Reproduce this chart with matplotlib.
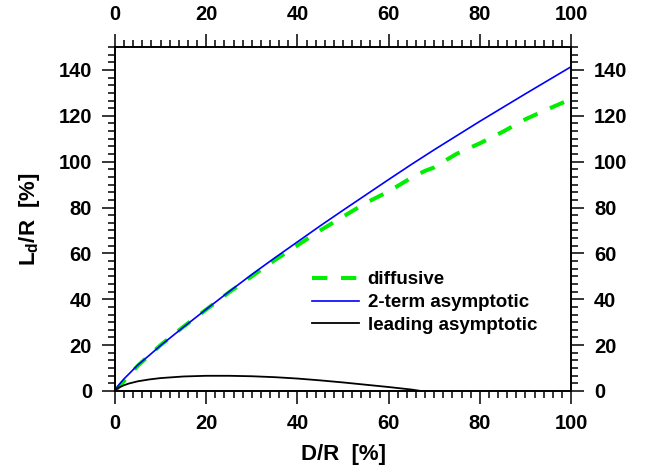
import numpy as np
import matplotlib
matplotlib.use('Agg')
import matplotlib.pyplot as plt
from matplotlib.ticker import MultipleLocator, AutoMinorLocator

plt.rcParams['font.family'] = ['Liberation Sans', 'DejaVu Sans']
plt.rcParams['font.weight'] = 'bold'
plt.rcParams['mathtext.default'] = 'regular'

# diffusive
d_diff = [0, 5, 10, 15, 20, 25, 30, 35, 40, 45, 50, 55, 60, 65, 68, 70, 72, 75, 80, 85, 90, 95, 100]
l_diff = [0, 11, 20, 28, 35.5, 43, 50, 57, 63.5, 70, 76, 82, 87, 93, 96, 97.5, 100, 103.5, 108, 113, 118.5, 123, 127.3]

# 2-term asymptotic
d_two = [0, 0.5, 1, 2, 3, 5, 7.5, 10, 12.5, 15, 17.5, 20, 25, 30, 35, 40, 45, 50,
         55, 60, 65, 70, 75, 80, 85, 90, 95, 100]
l_two = [0, 1.8, 3, 5.3, 7.3, 11.3, 15.5, 19.8, 23.8, 27.8, 31.7, 35.6, 43.3, 50.8, 58, 65, 72, 78.8,
         85.5, 92.2, 98.8, 105.2, 111.4, 117.6, 123.6, 129.6, 135.5, 141.4]

# leading asymptotic
d_lead = [0, 0.5, 1, 2, 3, 5, 7.5, 10, 15, 20, 25, 30, 35, 40, 45, 50, 55, 60, 65, 67]
l_lead = [0, 1.0, 1.6, 2.5, 3.2, 4.2, 5.0, 5.6, 6.3, 6.6, 6.6, 6.4, 6.0, 5.4, 4.6, 3.7, 2.7, 1.7, 0.6, 0]

fig = plt.figure(figsize=(6.46, 4.75), dpi=100)
ax = fig.add_axes([0.178, 0.177, 0.706, 0.724])

ax.plot(d_diff, l_diff, color='#00ee00', lw=2.9, dashes=(3.8, 3.4), label='diffusive')
ax.plot(d_two, l_two, color='#0000ff', lw=1.2, label='2-term asymptotic')
ax.plot(d_lead, l_lead, color='black', lw=1.3, label='leading asymptotic')

ax.set_xlim(0, 100)
ax.set_ylim(0, 150)
ax.xaxis.set_major_locator(MultipleLocator(20))
ax.xaxis.set_minor_locator(AutoMinorLocator(10))
ax.yaxis.set_major_locator(MultipleLocator(20))
ax.yaxis.set_minor_locator(AutoMinorLocator(6))
ax.set_yticks([0, 20, 40, 60, 80, 100, 120, 140])

ax.tick_params(which='both', direction='out', top=True, right=True,
               labeltop=True, labelright=True, labelsize=14.5, pad=7)
ax.tick_params(which='major', length=9.5, width=1.1)
ax.tick_params(which='minor', length=5, width=1.1)
for s in ax.spines.values():
    s.set_linewidth(1.4)

ax.set_xlabel('D/R  [%]', fontsize=16, fontweight='bold', labelpad=8)
ax.set_ylabel(r'L$_d$/R  [%]', fontsize=16, fontweight='bold', labelpad=12)

ax.legend(loc='upper left', bbox_to_anchor=(0.412, 0.375), frameon=False, borderpad=0,
          fontsize=13.5, handlelength=2.5, labelspacing=0.3, handletextpad=0.45)

fig.savefig('out.png', dpi=100)
